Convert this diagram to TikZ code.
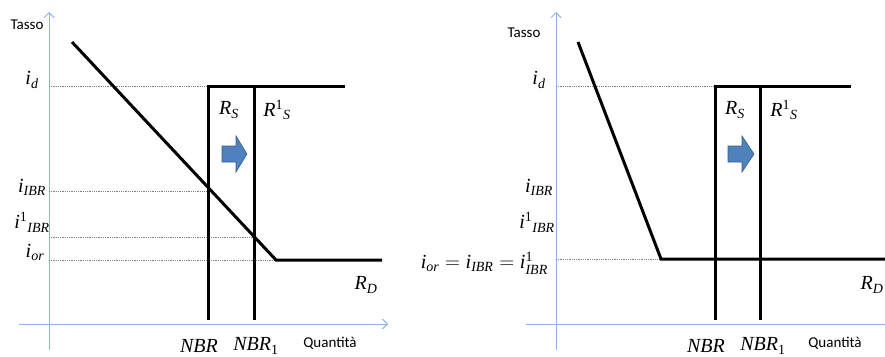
\documentclass[tikz,border=0pt]{standalone}
\usepackage{fontspec}
\usepackage{amsmath}
\usepackage{xcolor}
\setmainfont{Liberation Serif}
\newfontfamily\calfont{Carlito}
\usetikzlibrary{
    positioning,
    calc,
    arrows.meta
}
\definecolor{AsseBlu}{HTML}{8EB4E3}
\definecolor{FrecciaBlu}{HTML}{4F81BD}
\definecolor{FrecciaBordo}{HTML}{385D8A}
\definecolor{GrigioPunti}{HTML}{7F7F7F}

\newcommand{\crs}[1]{\textit{#1}}

\tikzset{
    asse/.style={draw=AsseBlu, line width=1pt, -{Straight Barb[length=5pt,width=10pt]}},
    curva/.style={draw=black, line width=3pt},
    livello/.style={draw=GrigioPunti, line width=0.9pt, dash pattern=on 0.9pt off 0.9pt},
    etich/.style={inner sep=0pt, font=\fontsize{20}{20}\selectfont},
    asselab/.style={inner sep=0pt, font=\calfont\fontsize{15}{15}\selectfont},
    spinta/.style={fill=FrecciaBlu, draw=FrecciaBordo, line width=0.6pt}
}

\begin{document}
\begin{tikzpicture}[x=1pt, y=-1pt]
    \useasboundingbox (0,0) rectangle (885,356);

    % ---- grafico di sinistra
    \coordinate (oyA) at (49,350);
    \coordinate (tyA) at (49,12);
    \coordinate (oxA) at (19,324);
    \coordinate (txA) at (388,324);
    \draw[asse] (oyA) -- (tyA);
    \draw[asse] (oxA) -- (txA);

    \coordinate (dA1) at (72,42);
    \coordinate (dA2) at (276,260);
    \coordinate (dA3) at (382,260);
    \coordinate (sA0) at (208,320);
    \coordinate (sA1) at (208,86);
    \coordinate (sA2) at (345,86);
    \coordinate (rA0) at (254,320);
    \coordinate (rA1) at (254,86);
    \coordinate (xIBR) at (208,191);
    \coordinate (xIBRu) at (254,237);

    \draw[livello] (49,86) -- (sA1);
    \draw[livello] (49,191) -- (xIBR);
    \draw[livello] (49,237) -- (xIBRu);
    \draw[livello] (49,260) -- (dA2);

    \draw[curva] (dA1) -- (dA2) -- (dA3);
    \draw[curva] (sA0) -- (sA1) -- (sA2);
    \draw[curva] (rA0) -- (rA1);

    \draw[spinta] (222,146) -- (236,146) -- (236,136) -- (247,154)
        -- (236,172) -- (236,162) -- (222,162) -- cycle;

    \node[asselab] (tassoA) at (27,25) {Tasso};
    \node[asselab] (quantA) at (330,343) {Quantità};
    \node[etich] (idA) at (32,80) {$\crs{i}_{\crs{d}}$};
    \node[etich] (ibrA) at (32,187) {$\crs{i}_{\crs{IBR}}$};
    \node[etich] (ibruA) at (32,222) {$\crs{i}^{\textrm{1}}{}_{\crs{IBR}}$};
    \node[etich] (iorA) at (35,252) {$\crs{i}_{\crs{or}}$};
    \node[etich] (rsA) at (229,110) {$\crs{R}_{\crs{S}}$};
    \node[etich] (rsuA) at (277,110) {$\crs{R}^{\textrm{1}}{}_{\crs{S}}$};
    \node[etich] (rdA) at (366,285) {$\crs{R}_{\crs{D}}$};
    \node[etich] (nbrA) at (199,346) {$\crs{NBR}$};
    \node[etich] (nbruA) at (256,346) {$\crs{NBR}_{\textrm{1}}$};

    % ---- grafico di destra
    \coordinate (oyB) at (556,350);
    \coordinate (tyB) at (556,12);
    \coordinate (oxB) at (526,324);
    \coordinate (txB) at (885,324);
    \draw[asse] (oyB) -- (tyB);
    \draw[draw=AsseBlu, line width=1pt] (oxB) -- (txB);

    \coordinate (dB1) at (578,42);
    \coordinate (dB2) at (661,259);
    \coordinate (dB3) at (885,259);
    \coordinate (sB0) at (715,320);
    \coordinate (sB1) at (715,86);
    \coordinate (sB2) at (851,86);
    \coordinate (rB0) at (760,320);
    \coordinate (rB1) at (760,86);

    \draw[livello] (556,86) -- (sB1);
    \draw[livello] (556,259) -- (dB2);

    \draw[curva] (dB1) -- (dB2) -- (dB3);
    \draw[curva] (sB0) -- (sB1) -- (sB2);
    \draw[curva] (rB0) -- (rB1);

    \draw[spinta] (728,146) -- (742,146) -- (742,136) -- (754,154)
        -- (742,172) -- (742,162) -- (728,162) -- cycle;

    \node[asselab] (tassoB) at (524,33) {Tasso};
    \node[asselab] (quantB) at (835,343) {Quantità};
    \node[etich] (idB) at (539,80) {$\crs{i}_{\crs{d}}$};
    \node[etich] (ibrB) at (539,187) {$\crs{i}_{\crs{IBR}}$};
    \node[etich] (ibruB) at (537,222) {$\crs{i}^{\textrm{1}}{}_{\crs{IBR}}$};
    \node[etich, anchor=east] (iorB) at (548,263)
        {$\crs{i}_{\crs{or}} = \crs{i}_{\crs{IBR}} = \crs{i}^{\textrm{1}}_{\crs{IBR}}$};
    \node[etich] (rsB) at (735,110) {$\crs{R}_{\crs{S}}$};
    \node[etich] (rsuB) at (784,110) {$\crs{R}^{\textrm{1}}{}_{\crs{S}}$};
    \node[etich] (rdB) at (872,285) {$\crs{R}_{\crs{D}}$};
    \node[etich] (nbrB) at (706,346) {$\crs{NBR}$};
    \node[etich] (nbruB) at (763,346) {$\crs{NBR}_{\textrm{1}}$};
\end{tikzpicture}
\end{document}
